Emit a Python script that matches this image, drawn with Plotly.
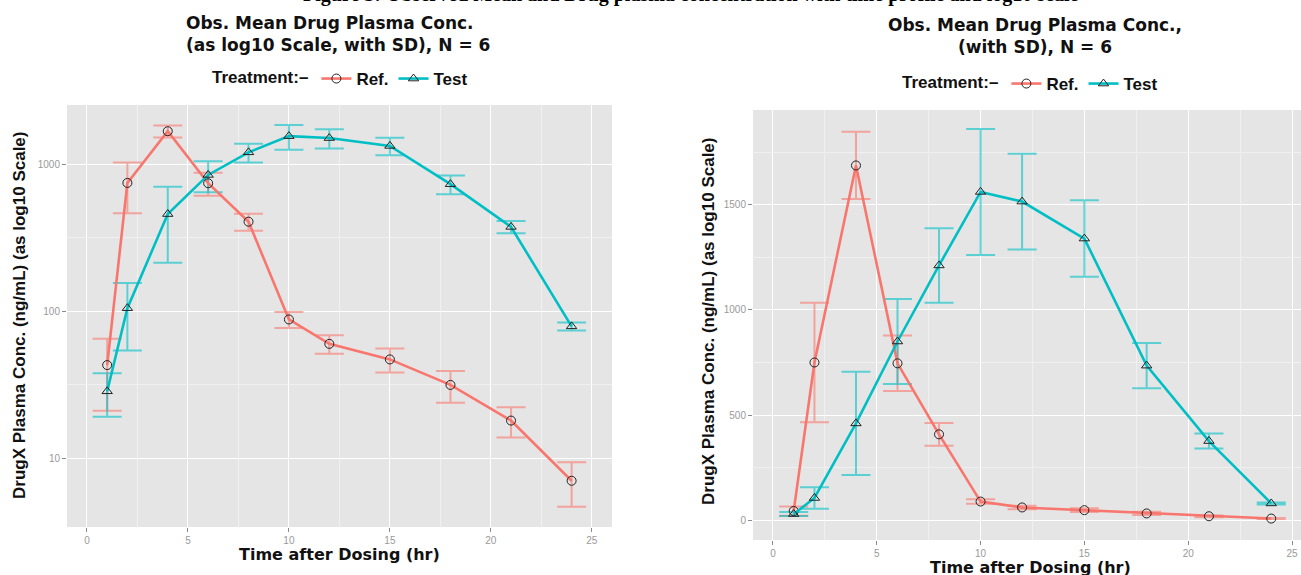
import plotly.graph_objects as go

# ---------------- data ----------------
time = [1, 2, 4, 6, 8, 10, 12, 15, 18, 21, 24]
ref_mean = [43, 750, 1688, 746, 408, 88, 60, 47, 31.5, 18, 7.0]
ref_sd = [22, 284, 160, 132, 54, 11, 8.6, 8.7, 7.7, 4.2, 2.35]
test_mean = [28.5, 105, 460, 850, 1212, 1562, 1516, 1340, 735, 376, 79]
test_sd = [9.4, 51, 246, 202, 177, 300, 228, 182, 108, 36, 5]

treatments = ["Ref.", "Test"]
log_ticks = [10, 100, 1000]
lin_ticks = [0, 500, 1000, 1500]
x_ticks = [0, 5, 10, 15, 20, 25]

caption = "Figure 3: Observed Mean and Drug plasma concentration with time profile and log10 scale"
title_left = "Obs. Mean Drug Plasma Conc.<br>(as log10 Scale, with SD), N = 6"
title_right = "Obs. Mean Drug Plasma Conc.,<br>(with SD), N = 6"
ytitle = "DrugX Plasma Conc. (ng/mL) (as log10 Scale)"
xtitle = "Time after Dosing (hr)"
legend_title = "Treatment:–"

# ---------------- style ----------------
W, H = 1301, 575
FONT = "Liberation Sans, Arial, Helvetica, sans-serif"
WIDE = "DejaVu Sans, Verdana, sans-serif"
col = {"Ref.": "#F8766D", "Test": "#00BFC4"}
col_err = {"Ref.": "rgba(248,118,109,0.6)", "Test": "rgba(0,191,196,0.6)"}
sym = {"Ref.": "circle-open", "Test": "triangle-up-open"}
means = {"Ref.": ref_mean, "Test": test_mean}
sds = {"Ref.": ref_sd, "Test": test_sd}


def px(x):
    return x / W


def py(y):
    return 1 - y / H


fig = go.Figure()

panels = [("x", "y", "legend"), ("x2", "y2", "legend2")]
for xa, ya, lg in panels:
    for tr in treatments:
        # error bars (mean +/- SD)
        fig.add_trace(go.Scatter(
            x=time, y=means[tr], mode="markers",
            marker=dict(size=1, color="rgba(0,0,0,0)"),
            error_y=dict(type="data", array=sds[tr], visible=True,
                         color=col_err[tr], thickness=2, width=14.5),
            xaxis=xa, yaxis=ya, showlegend=False, hoverinfo="skip"))
    for tr in treatments:
        fig.add_trace(go.Scatter(
            x=time, y=means[tr], mode="lines+markers", name=tr,
            line=dict(color=col[tr], width=2.6),
            marker=dict(symbol=sym[tr], size=9, color="#222222",
                        line=dict(width=1, color="#222222")),
            xaxis=xa, yaxis=ya, legend=lg, showlegend=True))

axis_common = dict(
    showgrid=True, gridcolor="white", gridwidth=1.4, zeroline=False,
    ticks="outside", ticklen=4, tickwidth=1, tickcolor="#8A8A8A",
    tickfont=dict(family=FONT, size=10, color="#999999"),
    showline=False,
)
minor_x = dict(tickmode="array", tickvals=[2.5, 7.5, 12.5, 17.5, 22.5],
               showgrid=True, gridcolor="#F0F0F0", gridwidth=1, ticks="")

fig.update_layout(
    width=W, height=H,
    margin=dict(l=0, r=0, t=0, b=0),
    paper_bgcolor="white", plot_bgcolor="#E5E5E5",
    font=dict(family=FONT),
    xaxis=dict(domain=[px(67), px(612)], range=[-0.99, 26.0], anchor="y",
               tickmode="array", tickvals=x_ticks, minor=minor_x, **axis_common),
    yaxis=dict(domain=[py(527), py(105)], type="log", range=[0.530, 3.406], anchor="x",
               tickmode="array", tickvals=log_ticks, ticktext=[str(v) for v in log_ticks],
               minor=dict(tickmode="array", tickvals=[10 ** 0.5, 10 ** 1.5, 10 ** 2.5],
                          showgrid=True, gridcolor="#F0F0F0", gridwidth=1, ticks=""),
               **axis_common),
    xaxis2=dict(domain=[px(753), 1.0], range=[-0.96, (W - 773) / 20.76], anchor="y2",
                tickmode="array", tickvals=x_ticks, minor=minor_x, **axis_common),
    yaxis2=dict(domain=[py(540), py(110)], range=[-95, 1952], anchor="x2",
                tickmode="array", tickvals=lin_ticks,
                minor=dict(tickmode="array", tickvals=[250, 750, 1250, 1750],
                           showgrid=True, gridcolor="#F0F0F0", gridwidth=1, ticks=""),
                **axis_common),
    legend=dict(orientation="h", x=px(210), y=py(79), xanchor="left", yanchor="middle",
                bgcolor="rgba(0,0,0,0)", itemwidth=30, tracegroupgap=0,
                font=dict(family=FONT, size=17, color="#111111", weight="bold"),
                title=dict(text=legend_title, side="left",
                           font=dict(family=FONT, size=17, color="#111111", weight="bold"))),
    legend2=dict(orientation="h", x=px(900), y=py(84), xanchor="left", yanchor="middle",
                 bgcolor="rgba(0,0,0,0)", itemwidth=30, tracegroupgap=0,
                 font=dict(family=FONT, size=17, color="#111111", weight="bold"),
                 title=dict(text=legend_title, side="left",
                            font=dict(family=FONT, size=17, color="#111111", weight="bold"))),
)

ann_font = dict(family=FONT, size=17, color="#111111", weight="bold")
wide_font = dict(family=WIDE, size=17, color="#111111", weight="bold")
xt_font = dict(family=WIDE, size=16, color="#111111", weight="bold")
annotations = [
    dict(text=caption, x=px(690), y=py(8), xref="paper", yref="paper",
         xanchor="center", yanchor="bottom", showarrow=False,
         font=dict(family="Liberation Serif, Times New Roman, serif", size=20,
                   color="#000000", weight="bold")),
    dict(text=title_left, x=px(338), y=py(34), xref="paper", yref="paper",
         xanchor="center", yanchor="middle", showarrow=False, font=wide_font, align="left"),
    dict(text=title_right, x=px(1035), y=py(36), xref="paper", yref="paper",
         xanchor="center", yanchor="middle", showarrow=False, font=wide_font, align="center"),
    dict(text=ytitle, x=px(19), y=py(316), xref="paper", yref="paper",
         xanchor="center", yanchor="middle", textangle=-90, showarrow=False, font=ann_font),
    dict(text=ytitle, x=px(708), y=py(322), xref="paper", yref="paper",
         xanchor="center", yanchor="middle", textangle=-90, showarrow=False, font=ann_font),
    dict(text=xtitle, x=px(339), y=py(554), xref="paper", yref="paper",
         xanchor="center", yanchor="middle", showarrow=False, font=xt_font),
    dict(text=xtitle, x=px(1030), y=py(567), xref="paper", yref="paper",
         xanchor="center", yanchor="middle", showarrow=False, font=xt_font),
]
fig.update_layout(annotations=annotations)

fig.write_html("out.html", config={"displayModeBar": False},
               post_script="document.body.style.margin='0px';")
